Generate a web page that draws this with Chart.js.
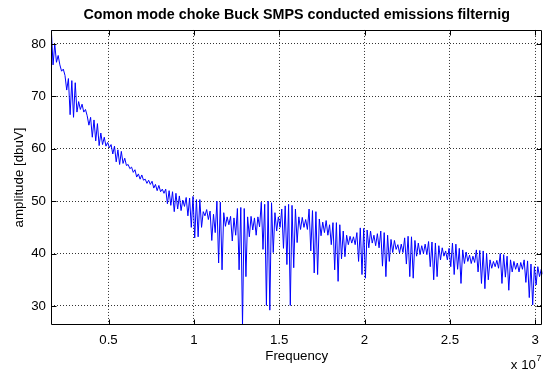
<!DOCTYPE html>
<html>
<head>
<meta charset="utf-8">
<script src="https://cdn.jsdelivr.net/npm/chart.js@4"></script>
<style>
  body { margin: 0; background: #fff; }
  canvas { display: block; }
</style>
</head>
<body>
<canvas id="emiChart" width="546" height="371"></canvas>
<script>
// sweep grid of the receiver (Hz)
const freqStartHz = 1.65e6;
const freqStepHz = 1e5;

const amplitudeDbuV = [
    82.6, 76.0, 80.0, 76.5, 77.8, 76.0, 74.8, 75.2, 74.0, 71.2,
    73.4, 66.5, 73.0, 66.0, 72.6, 67.0, 69.0, 67.5, 68.5, 67.0,
    67.5, 66.3, 64.5, 66.0, 62.2, 65.5, 61.5, 64.8, 60.6, 63.0,
    60.8, 62.2, 60.5, 61.2, 60.2, 60.8, 59.0, 60.5, 57.5, 59.8,
    57.0, 59.5, 57.2, 58.2, 56.8, 57.0, 56.2, 56.5, 55.5, 56.0,
    54.6, 55.2, 54.2, 55.0, 54.0, 54.2, 53.4, 54.0, 53.2, 53.8,
    52.5, 53.2, 52.0, 53.0, 51.8, 52.3, 51.5, 52.3, 49.5, 52.0,
    49.2, 51.8, 48.0, 51.5, 48.5, 51.0, 48.2, 50.2, 49.0, 50.7,
    47.2, 50.6, 45.0, 50.9, 43.0, 50.3, 43.2, 50.3, 45.0, 48.0,
    47.2, 48.4, 46.5, 48.1, 42.5, 47.5, 44.0, 50.0, 38.2, 49.8,
    36.9, 47.8, 45.2, 47.0, 45.5, 47.1, 42.4, 46.8, 43.5, 48.6,
    36.9, 48.8, 26.3, 48.6, 35.6, 47.0, 43.2, 47.1, 44.5, 46.8,
    43.5, 47.0, 45.1, 49.8, 40.8, 49.4, 30.1, 50.0, 29.2, 49.7,
    40.2, 47.8, 44.3, 47.0, 45.0, 48.5, 41.0, 49.1, 37.9, 49.4,
    30.1, 49.2, 37.3, 48.5, 42.1, 47.0, 44.6, 46.9, 45.0, 46.5,
    44.6, 48.5, 40.5, 48.2, 36.3, 48.0, 36.0, 46.6, 43.4, 46.0,
    44.0, 46.3, 43.5, 45.5, 41.7, 45.9, 36.9, 45.9, 34.7, 45.5,
    39.0, 44.3, 39.4, 43.5, 41.7, 43.3, 42.0, 43.2, 41.7, 44.0,
    38.5, 44.9, 36.0, 44.8, 35.3, 44.5, 41.1, 44.3, 42.0, 43.5,
    41.5, 43.8, 41.1, 44.3, 37.6, 44.0, 35.6, 43.5, 38.5, 42.7,
    40.2, 42.5, 40.8, 41.7, 40.1, 41.8, 40.2, 43.0, 38.0, 43.3,
    35.6, 43.2, 35.3, 42.5, 39.5, 42.0, 39.8, 41.5, 40.0, 41.8,
    39.8, 42.3, 37.5, 42.2, 35.0, 42.0, 35.6, 41.5, 38.8, 41.1,
    39.5, 40.5, 38.8, 41.0, 37.5, 42.0, 36.0, 41.8, 37.0, 41.0,
    34.3, 40.7, 38.1, 40.3, 38.5, 39.7, 38.1, 39.5, 38.3, 40.7,
    36.5, 40.6, 34.3, 40.5, 33.3, 40.0, 35.0, 38.8, 37.2, 38.5,
    37.5, 38.7, 37.2, 40.0, 34.3, 39.8, 35.5, 39.5, 33.0, 38.8,
    36.5, 38.5, 37.0, 38.2, 36.5, 38.3, 37.0, 38.8, 34.5, 38.6,
    31.6, 38.0, 30.2, 37.5, 34.0, 37.5, 35.6, 37.0, 36.0, 36.8
];

const xTickValues = [5e6, 1e7, 1.5e7, 2e7, 2.5e7, 3e7];
const yTickValues = [30, 40, 50, 60, 70, 80];

const FONT = "'Liberation Sans', Arial, Helvetica, sans-serif";

const points = amplitudeDbuV.map((v, i) => ({ x: freqStartHz + i * freqStepHz, y: v }));

// matlab style box with inward ticks + the x10^7 exponent
const matlabBox = {
    id: 'matlabBox',
    afterDraw(chart) {
        const { ctx, chartArea: a, scales } = chart;
        const L = Math.round(a.left) + 0.5, R = Math.round(a.right) - 0.5;
        const T = Math.round(a.top) + 0.5, B = Math.round(a.bottom) - 0.5;
        const tick = 5;
        ctx.save();
        ctx.strokeStyle = '#000';
        ctx.lineWidth = 1;
        ctx.beginPath();
        ctx.rect(L, T, R - L, B - T);
        for (const v of xTickValues) {
            const px = Math.round(scales.x.getPixelForValue(v)) + 0.5;
            ctx.moveTo(px, B); ctx.lineTo(px, B - tick);
            ctx.moveTo(px, T); ctx.lineTo(px, T + tick);
        }
        for (const v of yTickValues) {
            const py = Math.round(scales.y.getPixelForValue(v)) + 0.5;
            ctx.moveTo(L, py); ctx.lineTo(L + tick, py);
            ctx.moveTo(R, py); ctx.lineTo(R - tick, py);
        }
        ctx.stroke();

        ctx.fillStyle = '#000';
        ctx.textBaseline = 'alphabetic';
        ctx.textAlign = 'right';
        ctx.font = '13.3px ' + FONT;
        ctx.fillText('x 10', 536, 369);
        ctx.textAlign = 'left';
        ctx.font = '9px ' + FONT;
        ctx.fillText('7', 536.5, 361);
        ctx.restore();
    }
};

const ctx = document.getElementById('emiChart').getContext('2d');
const chart = new Chart(ctx, {
    type: 'line',
    data: {
        datasets: [{
            label: 'emissions',
            data: points,
            borderColor: '#0000ff',
            borderWidth: 1,
            pointRadius: 0,
            tension: 0,
            fill: false
        }]
    },
    options: {
        responsive: false,
        animation: false,
        devicePixelRatio: 1,
        layout: { padding: { left: 0, right: 1, top: 0, bottom: 0 } },
        plugins: {
            legend: { display: false },
            tooltip: { enabled: false },
            title: {
                display: true,
                fullSize: false,
                text: 'Comon mode choke Buck SMPS conducted emissions filternig',
                color: '#000',
                font: { family: FONT, size: 14.3, weight: 'bold' },
                padding: { top: 6.4, bottom: 6.4 }
            }
        },
        scales: {
            x: {
                type: 'linear',
                min: 1.63e6,
                max: 3.042e7,
                afterBuildTicks: s => { s.ticks = xTickValues.map(v => ({ value: v })); },
                afterFit: s => { s.height = 46; },
                ticks: {
                    color: '#000',
                    font: { family: FONT, size: 13.3 },
                    padding: 7,
                    maxRotation: 0,
                    callback: v => String(v / 1e7)
                },
                grid: { color: '#333', drawTicks: false },
                border: { display: false, dash: [1, 2] },
                title: {
                    display: true,
                    text: 'Frequency',
                    color: '#000',
                    font: { family: FONT, size: 13.3 },
                    padding: { top: 0, bottom: 7 }
                }
            },
            y: {
                min: 26.37,
                max: 82.67,
                afterBuildTicks: s => { s.ticks = yTickValues.map(v => ({ value: v })); },
                afterFit: s => { s.width = 51; },
                ticks: {
                    color: '#000',
                    font: { family: FONT, size: 13.3 },
                    padding: 5
                },
                grid: { color: '#333', drawTicks: false },
                border: { display: false, dash: [1, 2] },
                title: {
                    display: true,
                    text: 'amplitude [dbuV]',
                    color: '#000',
                    font: { family: FONT, size: 13.3 },
                    padding: { top: 11, bottom: 0 }
                }
            }
        }
    },
    plugins: [matlabBox]
});
</script>
</body>
</html>
